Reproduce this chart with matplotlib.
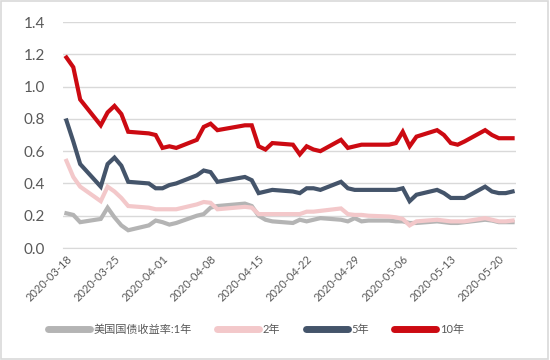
import matplotlib
matplotlib.use("Agg")
import matplotlib.pyplot as plt
import pandas as pd
from matplotlib.patches import Rectangle

plt.rcParams['font.family'] = ['Lato', 'Noto Sans CJK SC', 'DejaVu Sans']

dates = pd.to_datetime([
    "2020-03-18", "2020-03-19", "2020-03-20", "2020-03-23", "2020-03-24",
    "2020-03-25", "2020-03-26", "2020-03-27", "2020-03-30", "2020-03-31",
    "2020-04-01", "2020-04-02", "2020-04-03", "2020-04-06", "2020-04-07",
    "2020-04-08", "2020-04-09", "2020-04-13", "2020-04-14", "2020-04-15",
    "2020-04-16", "2020-04-17", "2020-04-20", "2020-04-21", "2020-04-22",
    "2020-04-23", "2020-04-24", "2020-04-27", "2020-04-28", "2020-04-29",
    "2020-04-30", "2020-05-01", "2020-05-04", "2020-05-05", "2020-05-06",
    "2020-05-07", "2020-05-08", "2020-05-11", "2020-05-12", "2020-05-13",
    "2020-05-14", "2020-05-15", "2020-05-18", "2020-05-19", "2020-05-20",
    "2020-05-21", "2020-05-22",
])

y1 = [0.215, 0.205, 0.16, 0.18, 0.25, 0.19, 0.14, 0.11, 0.14, 0.17,
      0.16, 0.145, 0.155, 0.20, 0.21, 0.25, 0.26, 0.275, 0.26, 0.20, 0.175, 0.165,
      0.155, 0.175, 0.165, 0.175, 0.185, 0.175, 0.165, 0.185, 0.165, 0.17,
      0.17, 0.165, 0.165, 0.155, 0.155, 0.165, 0.16, 0.155, 0.155, 0.16,
      0.175, 0.17, 0.16, 0.16, 0.16]
y2 = [0.54, 0.44, 0.38, 0.29, 0.38, 0.35, 0.31, 0.26, 0.25, 0.24,
      0.24, 0.24, 0.24, 0.27, 0.285, 0.28, 0.24, 0.255, 0.25, 0.21, 0.21, 0.21,
      0.21, 0.21, 0.225, 0.225, 0.23, 0.245, 0.21, 0.205, 0.205, 0.20,
      0.195, 0.19, 0.18, 0.14, 0.165, 0.175, 0.17, 0.165, 0.165, 0.165,
      0.185, 0.175, 0.165, 0.165, 0.17]
y5 = [0.79, 0.66, 0.52, 0.38, 0.52, 0.56, 0.51, 0.41, 0.40, 0.37,
      0.37, 0.39, 0.40, 0.45, 0.48, 0.47, 0.41, 0.44, 0.42, 0.34, 0.35, 0.36,
      0.35, 0.34, 0.37, 0.37, 0.36, 0.41, 0.37, 0.36, 0.36, 0.36,
      0.36, 0.36, 0.37, 0.29, 0.33, 0.36, 0.34, 0.31, 0.31, 0.31,
      0.38, 0.35, 0.34, 0.34, 0.35]
y10 = [1.18, 1.12, 0.92, 0.76, 0.84, 0.88, 0.83, 0.72, 0.71, 0.70,
       0.62, 0.63, 0.62, 0.67, 0.75, 0.77, 0.73, 0.76, 0.76, 0.63, 0.61, 0.65,
       0.64, 0.58, 0.63, 0.61, 0.60, 0.67, 0.62, 0.63, 0.64, 0.64,
       0.64, 0.65, 0.72, 0.63, 0.69, 0.73, 0.70, 0.65, 0.64, 0.66,
       0.73, 0.70, 0.68, 0.68, 0.68]

labels = ["美国国债收益率:1年", "2年", "5年", "10年"]
colors = ["#b4b4b4", "#f3c8ca", "#44546a", "#cc0a12"]
tick_dates = pd.date_range("2020-03-18", "2020-05-20", freq="7D")

fig = plt.figure(figsize=(5.5, 3.6), dpi=100)
ax = fig.add_axes([63 / 550, 1 - 248 / 360, 453 / 550, 226 / 360])

for ys, lab, col in zip([y1, y2, y5, y10], labels, colors):
    ax.plot(dates, ys, color=col, lw=3.0, label=lab, solid_joinstyle="miter")

ax.set_ylim(0, 1.4)
ax.set_yticks([0, 0.2, 0.4, 0.6, 0.8, 1.0, 1.2, 1.4])
ax.set_yticklabels([f"{v:.1f}" for v in ax.get_yticks()])
ax.set_xlim(pd.Timestamp("2020-03-17 12:00"), pd.Timestamp("2020-05-22 12:00"))
ax.set_xticks(tick_dates)
ax.set_xticklabels([d.strftime("%Y-%m-%d") for d in tick_dates],
                   rotation=45, ha="right", rotation_mode="anchor")

ax.grid(axis="y", color="#d9d9d9", lw=1)
ax.set_axisbelow(True)
for s in ["top", "right", "left"]:
    ax.spines[s].set_visible(False)
ax.spines["bottom"].set_color("#d9d9d9")
ax.tick_params(axis="y", length=0, labelsize=11, labelcolor="#595959", pad=13)
ax.tick_params(axis="x", length=0, labelsize=8, labelcolor="#595959", pad=4)

fig.legend(loc="center", bbox_to_anchor=(0.465, 1 - 329 / 360), ncol=4,
           frameon=False, fontsize=8, handlelength=3.8, columnspacing=2.3,
           handletextpad=0.3, labelcolor="#595959")
for line in fig.legends[0].get_lines():
    line.set_linewidth(5)
    line.set_solid_capstyle("round")

fig.patches.append(Rectangle((0.002, 0.003), 0.995, 0.994, transform=fig.transFigure,
                             fill=False, edgecolor="#d9d9d9", lw=1.2))

fig.savefig("out.png", dpi=100)
